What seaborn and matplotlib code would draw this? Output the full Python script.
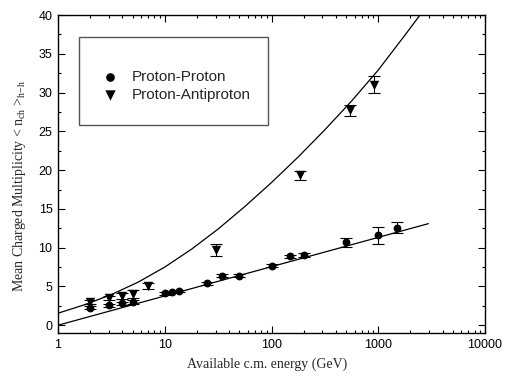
import numpy as np
import pandas as pd
import matplotlib
matplotlib.use("Agg")
import matplotlib.pyplot as plt
import seaborn as sns
from matplotlib.patches import Rectangle
from matplotlib.ticker import MultipleLocator, LogLocator, NullFormatter

pp_energy = [2, 3, 4, 5, 10, 11.8, 13.7, 25, 34, 50, 100, 150, 200, 500, 1000, 1500]
pp_mult = [2.25, 2.6, 2.85, 3.0, 4.1, 4.25, 4.45, 5.4, 6.4, 6.4, 7.65, 8.9, 9.05, 10.7, 11.6, 12.6]
pp_err = [0.2, 0.2, 0.2, 0.2, 0.15, 0.15, 0.15, 0.2, 0.2, 0.2, 0.2, 0.2, 0.2, 0.55, 1.1, 0.7]

ppbar_energy = [2, 3, 4, 5, 7, 30, 183, 544, 912]
ppbar_mult = [3.0, 3.5, 3.8, 4.0, 5.05, 9.7, 19.35, 27.7, 31.0]
ppbar_err = [0.3, 0.3, 0.4, 0.5, 0.4, 0.75, 0.6, 0.7, 1.1]

# fitted curves
pp_fit_energy = [1, 2950]
pp_fit_mult = [0.0, 13.1]

ppbar_fit_energy = [1, 1.78, 3.16, 5.62, 10, 17.8, 31.6, 56.2, 100, 178, 316, 562, 1000, 1778, 3162]
ppbar_fit_mult = [1.55, 2.65, 3.95, 5.55, 7.5, 9.8, 12.4, 15.3, 18.4, 21.7, 25.2, 28.9, 32.9, 37.4, 42.0]

sns.set_style("ticks")
plt.rcParams['font.family'] = ['Liberation Sans', 'DejaVu Sans']

fig = plt.figure(figsize=(5.05, 3.76), dpi=100)
ax = fig.add_axes([0.1149, 0.1144, 0.8455, 0.8457])

sns.lineplot(x=pp_fit_energy, y=pp_fit_mult, ax=ax, color="black", lw=0.9, sort=False, estimator=None)
sns.lineplot(x=ppbar_fit_energy, y=ppbar_fit_mult, ax=ax, color="black", lw=0.9, sort=False, estimator=None)

ax.errorbar(pp_energy, pp_mult, yerr=pp_err, fmt="none", ecolor="black", elinewidth=0.8, capsize=4.5, capthick=0.8)
ax.errorbar(ppbar_energy, ppbar_mult, yerr=ppbar_err, fmt="none", ecolor="black", elinewidth=0.8, capsize=4.5, capthick=0.8)

sns.scatterplot(x=pp_energy, y=pp_mult, ax=ax, marker="o", s=32, color="black", edgecolor="black",
                linewidth=0, label="Proton-Proton", zorder=3)
sns.scatterplot(x=ppbar_energy, y=ppbar_mult, ax=ax, marker="v", s=46, color="black", edgecolor="black",
                linewidth=0, label="Proton-Antiproton", zorder=3)

ax.set_xscale("log")
ax.set_xlim(1, 10000)
ax.set_ylim(-1, 40)
ax.yaxis.set_major_locator(MultipleLocator(5))
ax.yaxis.set_minor_locator(MultipleLocator(2.5))
ax.xaxis.set_minor_locator(LogLocator(base=10, subs=np.arange(2, 10)))
ax.xaxis.set_minor_formatter(NullFormatter())
ax.set_xticks([1, 10, 100, 1000, 10000])
ax.set_xticklabels(["1", "10", "100", "1000", "10000"])

ax.tick_params(which="both", direction="in", top=True, right=True, labelsize=9, colors="black", width=0.8)
ax.tick_params(which="major", length=5, pad=4)
ax.tick_params(which="minor", length=2.5)
for sp in ax.spines.values():
    sp.set_visible(True)
    sp.set_linewidth(1.0)
    sp.set_color("black")

ax.set_xlabel("Available c.m. energy (GeV)", family=["Liberation Serif", "DejaVu Serif"], fontsize=10)
ax.set_ylabel(r"Mean Charged Multiplicity < n$_{\mathregular{ch}}$ >$_{\mathregular{h\!-\!h}}$",
              family=["Liberation Serif", "DejaVu Serif"], fontsize=10)
ax.xaxis.set_label_coords(0.49, -0.078)
ax.yaxis.set_label_coords(-0.07, 0.464)

# legend box drawn separately, legend itself frameless
ax.add_patch(Rectangle((0.049, 0.654), 0.443, 0.277, transform=ax.transAxes, fill=True,
                       facecolor="white", edgecolor="#555555", lw=1.0, zorder=4))
leg = ax.legend(loc="upper left", bbox_to_anchor=(0.108, 0.826), fontsize=11, frameon=False,
                borderpad=0, handletextpad=1.0, labelspacing=0.25, borderaxespad=0, handlelength=0.8,
                markerscale=1.1)
leg.set_zorder(5)

fig.savefig("out.png", dpi=100)
